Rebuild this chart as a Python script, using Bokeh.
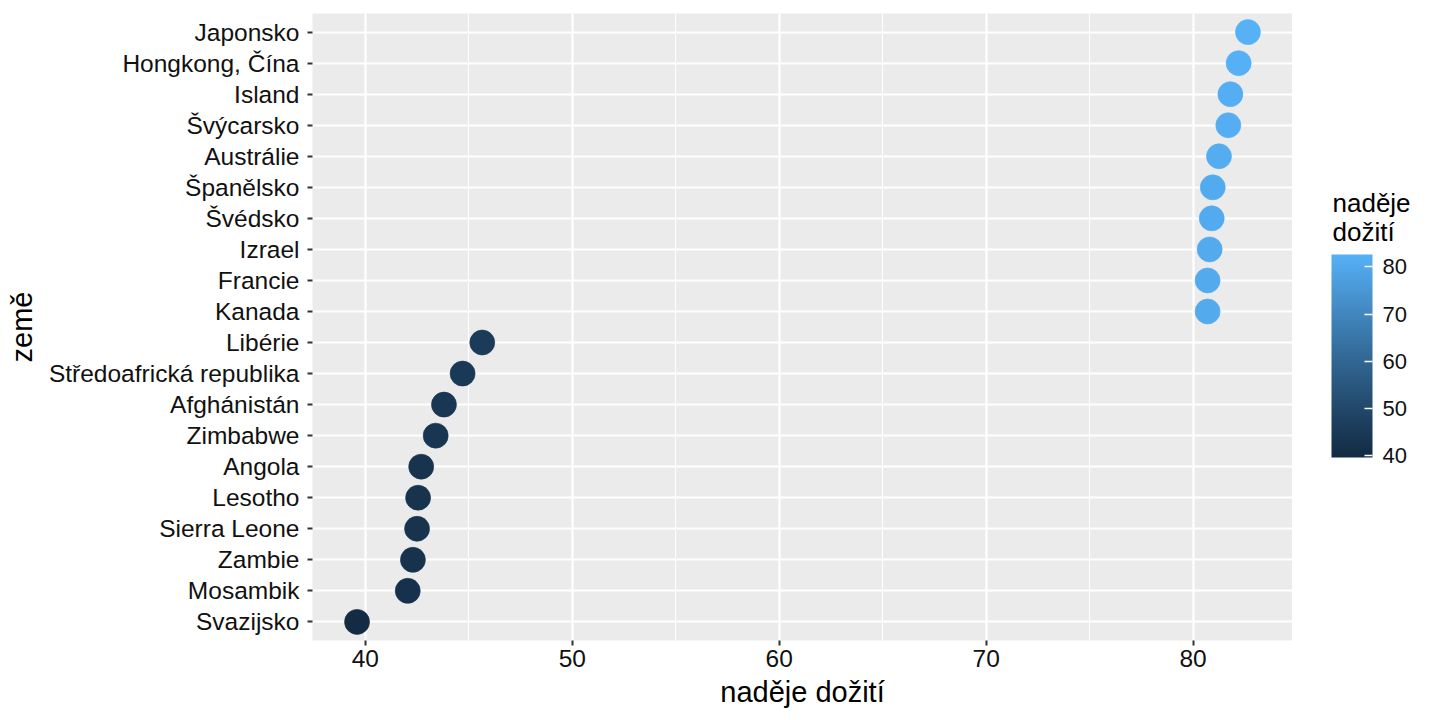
import numpy as np
from bokeh.plotting import figure
from bokeh.layouts import row
from bokeh.models import (ColumnDataSource, LinearColorMapper, ColorBar, FixedTicker,
                          FactorRange, Label)
from bokeh.transform import transform
from bokeh.embed import file_html
from bokeh.resources import INLINE

countries = ["Japonsko", "Hongkong, Čína", "Island", "Švýcarsko", "Austrálie",
             "Španělsko", "Švédsko", "Izrael", "Francie", "Kanada",
             "Libérie", "Středoafrická republika", "Afghánistán", "Zimbabwe",
             "Angola", "Lesotho", "Sierra Leone", "Zambie", "Mosambik", "Svazijsko"]
life_exp = [82.65, 82.2, 81.8, 81.7, 81.25, 80.95, 80.9, 80.8, 80.7, 80.7,
            45.65, 44.7, 43.8, 43.4, 42.7, 42.55, 42.5, 42.3, 42.05, 39.6]
x_ticks = [40, 50, 60, 70, 80]
x_minor = [35, 45, 55, 65, 75, 85]
x_title = "naděje dožití"
y_title = "země"
legend_title_lines = ["naděje", "dožití"]

FONT = "Liberation Sans"

# ggplot-like gradient (Lab interpolation) from #132B43 to #56B1F7
def hex2rgb(h):
    h = h.lstrip("#")
    return np.array([int(h[i:i + 2], 16) for i in (0, 2, 4)]) / 255.0

def srgb2lin(c):
    return np.where(c <= 0.04045, c / 12.92, ((c + 0.055) / 1.055) ** 2.4)

def lin2srgb(c):
    c = np.clip(c, 0, 1)
    return np.where(c <= 0.0031308, 12.92 * c, 1.055 * c ** (1 / 2.4) - 0.055)

M = np.array([[0.4124, 0.3576, 0.1805], [0.2126, 0.7152, 0.0722], [0.0193, 0.1192, 0.9505]])
Minv = np.linalg.inv(M)
WP = np.array([0.95047, 1.0, 1.08883])

def f(t):
    d = 6 / 29
    return np.where(t > d ** 3, np.cbrt(t), t / (3 * d * d) + 4 / 29)

def finv(t):
    d = 6 / 29
    return np.where(t > d, t ** 3, 3 * d * d * (t - 4 / 29))

def rgb2lab(c):
    xyz = M @ srgb2lin(c) / WP
    fx, fy, fz = f(xyz)
    return np.array([116 * fy - 16, 500 * (fx - fy), 200 * (fy - fz)])

def lab2hex(lab):
    L, a, b = lab
    fy = (L + 16) / 116
    xyz = np.array([finv(fy + a / 500), finv(fy), finv(fy - b / 200)]) * WP
    rgb = lin2srgb(Minv @ xyz)
    return "#%02x%02x%02x" % tuple(int(round(v * 255)) for v in rgb)

lo, hi = rgb2lab(hex2rgb("#132B43")), rgb2lab(hex2rgb("#56B1F7"))
palette = [lab2hex(lo + (hi - lo) * t) for t in np.linspace(0, 1, 256)]

mapper = LinearColorMapper(palette=palette, low=min(life_exp), high=max(life_exp))

source = ColumnDataSource(dict(country=countries, value=life_exp))

factors = list(reversed(countries))
span = max(life_exp) - min(life_exp)
p = figure(width=1292, height=720, output_backend="svg", toolbar_location=None,
           y_range=FactorRange(factors=factors, range_padding=0.1, range_padding_units="absolute"),
           x_range=(min(life_exp) - 0.05 * span, max(life_exp) + 0.05 * span),
           min_border_left=312, min_border_right=0, min_border_top=13, min_border_bottom=80)

p.background_fill_color = "#EBEBEB"
p.border_fill_color = "white"
p.outline_line_color = None

p.scatter(x="value", y="country", source=source, size=25,
          fill_color=transform("value", mapper), line_color=transform("value", mapper),
          line_alpha=0.6)

p.xaxis.ticker = FixedTicker(ticks=x_ticks, minor_ticks=x_minor)
p.xgrid.grid_line_color = "white"
p.xgrid.grid_line_width = 2.2
p.xgrid.minor_grid_line_color = "white"
p.xgrid.minor_grid_line_width = 1.1
p.ygrid.grid_line_color = "white"
p.ygrid.grid_line_width = 2.2

for ax in (p.xaxis, p.yaxis):
    ax.axis_line_color = None
    ax.major_tick_line_color = "#333333"
    ax.major_tick_line_width = 2
    ax.major_tick_in = 0
    ax.major_tick_out = 5
    ax.minor_tick_line_color = None
    ax.major_label_text_font = FONT
    ax.major_label_text_font_size = "24.5px"
    ax.major_label_text_color = "#111111"
    ax.axis_label_text_font = FONT
    ax.axis_label_text_font_size = "29px"
    ax.axis_label_text_font_style = "normal"
    ax.axis_label_text_color = "black"

p.xaxis.axis_label = x_title
p.yaxis.axis_label = y_title
p.xaxis.major_label_standoff = 4
p.xaxis.axis_label_standoff = 6
p.yaxis.major_label_standoff = 8
p.yaxis.axis_label_standoff = 8

# legend panel (colour bar + horizontal title); its frame is aligned with the main frame
lg = figure(width=148, height=720, output_backend="svg", toolbar_location=None,
            x_range=(0, 1), y_range=(0, 1),
            min_border_left=0, min_border_right=0, min_border_top=0, min_border_bottom=0)
lg.axis.visible = False
lg.grid.visible = False
lg.outline_line_color = None
lg.background_fill_color = "white"
lg.border_fill_color = "white"

cb = ColorBar(color_mapper=mapper, ticker=FixedTicker(ticks=x_ticks),
              width=41, height=203, location=(29, 173),
              major_label_text_font=FONT, major_label_text_font_size="22px",
              major_label_text_color="#111111",
              major_tick_line_color="white", major_tick_line_width=1.5,
              major_tick_in=8, major_tick_out=0,
              bar_line_color=None, border_line_color=None, background_fill_color=None,
              margin=0, padding=10, label_standoff=10)
lg.add_layout(cb, "center")

for i, line in enumerate(legend_title_lines):
    lg.add_layout(Label(x=40, y=438 - 29 * i, x_units="screen", y_units="screen",
                        text=line, text_font=FONT, text_font_size="26px",
                        text_color="black", text_baseline="alphabetic"))

layout = row(p, lg, spacing=0)

open("out.html", "w").write(file_html(layout, INLINE))
